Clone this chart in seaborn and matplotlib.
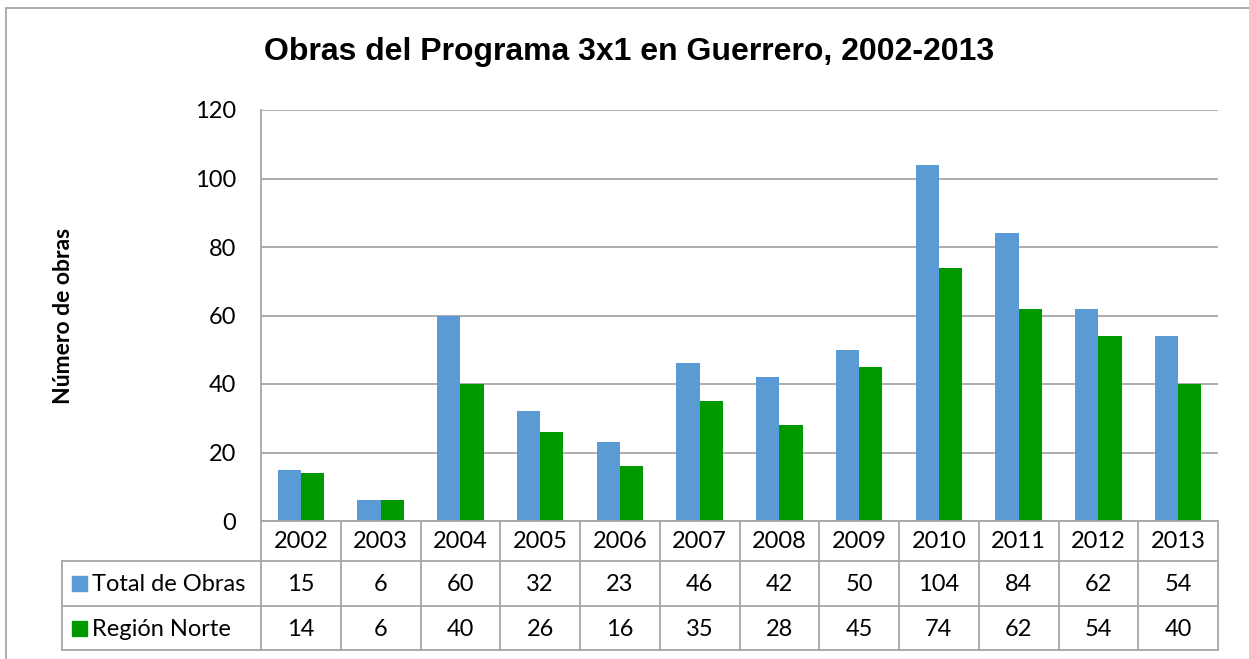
import matplotlib
matplotlib.use("Agg")
import matplotlib.pyplot as plt
import seaborn as sns
import pandas as pd
from matplotlib.patches import Rectangle

years = ["2002", "2003", "2004", "2005", "2006", "2007", "2008", "2009", "2010", "2011", "2012", "2013"]
total_obras = [15, 6, 60, 32, 23, 46, 42, 50, 104, 84, 62, 54]
region_norte = [14, 6, 40, 26, 16, 35, 28, 45, 74, 62, 54, 40]
series_names = ["Total de Obras", "Región Norte"]
colors = ["#5B9BD5", "#009900"]
yticks = [0, 20, 40, 60, 80, 100, 120]

sns.set_theme(style="white")
plt.rcParams["font.family"] = ["Lato", "DejaVu Sans"]
plt.rcParams["text.color"] = "black"
plt.rcParams["ytick.color"] = "black"
plt.rcParams["axes.labelcolor"] = "black"

W, H = 1249, 659
fig = plt.figure(figsize=(W / 100, H / 100), dpi=100)

def fx(px):
    return px / W

def fy(py):
    return 1 - py / H

FS = 17

# outer chart border
fig.patches.append(Rectangle((fx(6), fy(700)), fx(1300), fy(8) - fy(700), transform=fig.transFigure,
                             fill=False, edgecolor="#A6A6A6", linewidth=1.3))

left, right, top, bottom = 261, 1218, 110, 521
ax = fig.add_axes([fx(left), fy(bottom), fx(right) - fx(left), fy(top) - fy(bottom)])

df = pd.DataFrame({
    "Año": years * 2,
    "Valor": total_obras + region_norte,
    "Serie": [series_names[0]] * len(years) + [series_names[1]] * len(years),
})
sns.barplot(data=df, x="Año", y="Valor", hue="Serie", palette=colors, ax=ax,
            width=0.58, gap=0, saturation=1, legend=False, edgecolor="none")

ax.set_ylim(0, 120)
ax.set_xlim(-0.5, len(years) - 0.5)
ax.set_yticks(yticks)
ax.set_yticklabels([str(t) for t in yticks], fontsize=FS, color="black")
ax.set_xticks([])
ax.set_xlabel("")
ax.set_ylabel("")
ax.tick_params(axis="y", length=0, pad=18)
ax.grid(axis="y", color="#A6A6A6", linewidth=1.3)
ax.set_axisbelow(True)
for s in ["top", "right", "bottom"]:
    ax.spines[s].set_visible(False)
ax.spines["left"].set_color("#A6A6A6")
ax.spines["left"].set_linewidth(1.3)

fig.text(fx(63), fy(316), "Número de obras", rotation=90, ha="center", va="center",
         fontsize=16.5, fontweight="bold", color="black")

fig.text(fx(629), fy(52), "Obras del Programa 3x1 en Guerrero, 2002-2013", ha="center", va="center",
         fontsize=23, fontweight="bold", color="black", family=["Liberation Sans", "DejaVu Sans"])

# data table below the chart
tab_left = 62
tax = fig.add_axes([fx(tab_left), fy(650), fx(right) - fx(tab_left), fy(521) - fy(650)])
cat_w = (right - left) / len(years)
label_w_units = (left - tab_left) / cat_w
tax.set_xlim(-0.5 - label_w_units, len(years) - 0.5)
row_edges = [521, 561, 606, 650]
tax.set_ylim(650, 521)
tax.axis("off")
lc = "#A6A6A6"
lw = 1.3
x0 = -0.5 - label_w_units
x_start = -0.5
x_end = len(years) - 0.5
tax.plot([x_start, x_end], [521, 521], color=lc, lw=lw, clip_on=False)
for yv in [561, 606, 650]:
    tax.plot([x0, x_end], [yv, yv], color=lc, lw=lw, clip_on=False)
for i in range(len(years) + 1):
    tax.plot([i - 0.5, i - 0.5], [521, 650], color=lc, lw=lw, clip_on=False)
tax.plot([x0, x0], [561, 650], color=lc, lw=lw, clip_on=False)

for i, yr in enumerate(years):
    tax.text(i, (521 + 561) / 2 + 1, yr, ha="center", va="center", fontsize=FS, color="black")
    tax.text(i, (561 + 606) / 2 + 1, str(total_obras[i]), ha="center", va="center", fontsize=FS, color="black")
    tax.text(i, (606 + 650) / 2 + 1, str(region_norte[i]), ha="center", va="center", fontsize=FS, color="black")

sq = 15 / cat_w
for r, (name, col) in enumerate(zip(series_names, colors)):
    yc = (row_edges[r + 1] + row_edges[r + 2]) / 2
    tax.add_patch(Rectangle((x0 + 10 / cat_w, yc - 7.5), sq, 15, color=col, clip_on=False))
    tax.text(x0 + 30 / cat_w, yc + 1, name, ha="left", va="center", fontsize=FS, color="black")

fig.savefig("out.png", dpi=100)
